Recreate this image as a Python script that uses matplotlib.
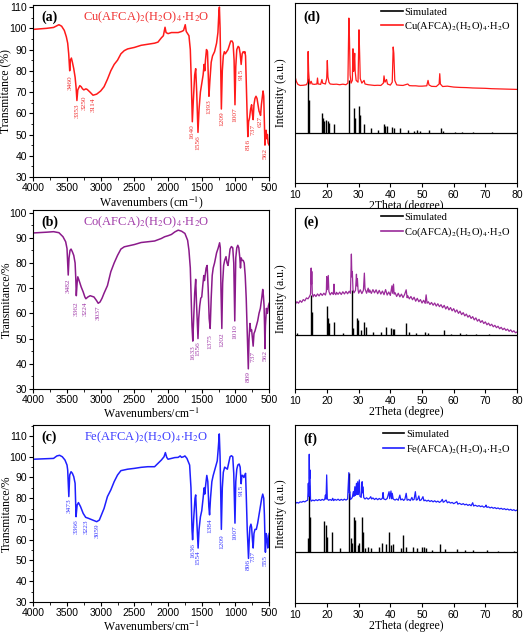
import numpy as np
import matplotlib
matplotlib.use("Agg")
import matplotlib.pyplot as plt
from matplotlib.ticker import MultipleLocator

plt.rcParams["font.family"] = ["Liberation Sans", "DejaVu Sans"]
plt.rcParams["mathtext.fontset"] = "stix"

# ---------------- IR data (wavenumber, transmittance) ----------------
cu_ir = [(4000, 99.5), (3800, 100), (3700, 100.4), (3650, 101.2), (3620, 101.7), (3580, 101), (3540, 99),
         (3510, 96), (3490, 93), (3475, 88), (3460, 80), (3450, 85), (3435, 86), (3420, 84), (3400, 81),
         (3380, 77), (3365, 72), (3353, 66), (3340, 71), (3310, 73), (3290, 72.5), (3270, 71.5), (3250, 71),
         (3220, 71.5), (3200, 71.2), (3160, 70), (3114, 68.5), (3060, 69), (3000, 70.5), (2950, 72.5),
         (2900, 76), (2850, 80), (2800, 83), (2750, 85), (2700, 88), (2650, 89.5), (2600, 90.3), (2500, 91),
         (2400, 92), (2300, 92.5), (2200, 93), (2150, 93.5), (2100, 95.5), (2070, 96.5), (2045, 100.5),
         (2030, 98), (2000, 97.5), (1950, 98), (1900, 98), (1850, 98), (1800, 98.5), (1770, 99), (1745, 101.7),
         (1730, 98.5), (1710, 97.5), (1690, 96.5), (1670, 90), (1655, 75), (1640, 56), (1625, 66), (1605, 78),
         (1590, 81), (1575, 70), (1556, 51), (1540, 62), (1520, 70), (1500, 74), (1480, 78), (1465, 83),
         (1455, 80), (1445, 85), (1430, 90), (1415, 89), (1405, 80), (1393, 68), (1380, 75), (1360, 84),
         (1340, 87), (1310, 89), (1280, 93), (1260, 98), (1245, 108), (1238, 110), (1228, 100), (1209, 62),
         (1195, 80), (1180, 87), (1165, 89), (1150, 88), (1130, 89), (1110, 90), (1090, 92), (1070, 94),
         (1050, 94), (1035, 93), (1020, 85), (1007, 64), (995, 82), (980, 90), (960, 91.5), (945, 91),
         (930, 88), (915, 83), (900, 88), (885, 89), (870, 88.5), (860, 89), (850, 87), (838, 72), (827, 60),
         (816, 49), (805, 56), (790, 58), (775, 62), (760, 64), (750, 60), (737, 57), (725, 64), (710, 67),
         (695, 68), (680, 67), (665, 64), (650, 61), (637, 60), (627, 59), (615, 64), (600, 68), (590, 70.5),
         (580, 68), (570, 55), (562, 45), (553, 50), (545, 52), (535, 48), (525, 50), (515, 46), (500, 45)]
cu_peaks = [3460, 3353, 3250, 3114, 1640, 1556, 1393, 1209, 1007, 915, 816, 737, 627, 562]
cu_peak_t = [79, 66, 69.5, 68.5, 56, 51, 68, 62, 64, 82, 49, 56, 60, 45]

co_ir = [(4000, 91.9), (3800, 92.2), (3700, 92.4), (3620, 92), (3560, 90.4), (3520, 88.4), (3500, 85.7),
         (3490, 80), (3482, 75.2), (3470, 82), (3455, 85), (3440, 85.5), (3420, 84.4), (3400, 83), (3380, 80),
         (3370, 74), (3362, 67), (3350, 72), (3340, 74.5), (3320, 73), (3290, 70.5), (3260, 68.5),
         (3235, 66.5), (3220, 65.8), (3190, 66.5), (3156, 67), (3100, 66.5), (3060, 65), (3037, 64),
         (3010, 64.5), (2980, 66), (2950, 68), (2900, 71), (2850, 76.5), (2800, 80), (2750, 83), (2700, 85.5),
         (2650, 86.4), (2500, 87.3), (2400, 88.1), (2300, 88.4), (2200, 88.7), (2100, 89.7), (2050, 90.4),
         (2000, 90.8), (1950, 91.3), (1900, 92.3), (1850, 93), (1800, 92.6), (1750, 91.7), (1710, 89),
         (1690, 85), (1670, 78), (1655, 65), (1645, 55), (1633, 49), (1620, 58), (1605, 68), (1590, 73.5),
         (1578, 64), (1566, 56), (1556, 50), (1545, 58), (1530, 63), (1515, 66), (1500, 66.5), (1485, 71),
         (1470, 75), (1460, 73), (1450, 75), (1435, 78), (1420, 79), (1405, 70), (1390, 58), (1375, 54),
         (1360, 66), (1345, 75), (1330, 78), (1310, 80), (1280, 84), (1255, 86), (1235, 88), (1225, 86),
         (1215, 70), (1202, 54), (1190, 72), (1175, 79), (1160, 81), (1140, 82.5), (1125, 80), (1110, 79),
         (1095, 82), (1080, 85.5), (1060, 86.5), (1040, 86), (1025, 80), (1010, 57), (995, 82), (980, 86),
         (965, 87), (950, 86), (935, 82), (925, 78), (915, 82), (900, 81), (885, 81), (870, 80), (855, 75),
         (840, 66), (825, 52), (809, 38), (798, 50), (785, 56), (772, 53), (760, 53.5), (748, 50), (737, 47),
         (725, 52), (710, 53), (690, 55), (670, 57), (650, 60), (630, 62), (610, 66), (595, 69.5), (585, 67),
         (575, 63), (568, 55), (562, 46), (555, 55), (540, 62), (525, 60), (510, 63), (500, 64)]
co_peaks = [3482, 3362, 3224, 3037, 1633, 1556, 1375, 1202, 1010, 809, 737, 562]
co_peak_t = [75.2, 66, 66, 64.5, 48.5, 50, 53, 53.5, 57, 38.5, 46.5, 46.5]

fe_ir = [(4000, 98.8), (3700, 99.2), (3650, 100.4), (3610, 100.7), (3570, 100), (3530, 98.4), (3500, 96),
         (3490, 93.6), (3473, 80.8), (3460, 91.2), (3440, 92.8), (3420, 92), (3400, 90.4), (3380, 87.2),
         (3366, 71.1), (3350, 76.7), (3330, 77.9), (3300, 76), (3260, 72.7), (3223, 70.8), (3180, 70.3),
         (3120, 69.5), (3059, 68.7), (3020, 69.5), (2980, 72.7), (2950, 75.1), (2900, 80.8), (2850, 84),
         (2800, 88), (2750, 91.2), (2700, 93.3), (2600, 94), (2500, 94.4), (2400, 94.9), (2300, 95.2),
         (2200, 95.2), (2150, 96.8), (2100, 98.4), (2060, 100), (2040, 102), (2020, 99.7), (2000, 98.8),
         (1900, 99.6), (1850, 99.7), (1820, 100.4), (1800, 99.7), (1770, 100), (1750, 100.4), (1720, 99.2),
         (1700, 97.6), (1680, 96), (1660, 85), (1645, 65), (1636, 60), (1620, 70), (1600, 80), (1590, 81.6),
         (1575, 70), (1554, 56), (1540, 65), (1520, 71), (1500, 74), (1480, 80), (1465, 85), (1455, 82),
         (1440, 87), (1425, 91), (1410, 88), (1395, 76), (1384, 72), (1370, 80), (1350, 88), (1330, 91),
         (1300, 94.5), (1270, 98), (1255, 104), (1240, 111), (1228, 100), (1209, 65), (1195, 85),
         (1180, 92.5), (1160, 95), (1140, 94.5), (1120, 94), (1100, 97), (1080, 100), (1060, 100.5),
         (1040, 100), (1025, 92), (1007, 68), (995, 88), (980, 94), (965, 96), (945, 96.5), (930, 95),
         (915, 87), (905, 91), (890, 91), (875, 90), (860, 91), (850, 92), (840, 82), (825, 65), (806, 51),
         (795, 60), (785, 66), (770, 67.5), (760, 66), (748, 60), (737, 56), (725, 63), (710, 65), (690, 65),
         (670, 68), (650, 72), (630, 76), (610, 80), (595, 82), (580, 80), (570, 72), (560, 58), (555, 54),
         (545, 63), (535, 62), (520, 56), (510, 60), (500, 63)]
fe_peaks = [3473, 3366, 3223, 3059, 1636, 1554, 1384, 1209, 1007, 915, 806, 737, 555]
fe_peak_t = [81, 71, 71, 69, 59.5, 56, 71.5, 64, 68, 87.5, 52, 56, 54]

# ---------------- XRD data (2theta, intensity in % of panel height) ----------------
cu_sim_base = 27.8
cu_sim_pos = [14.0, 14.4, 18.3, 18.7, 19.2, 19.8, 20.2, 20.7, 22.2, 26.9, 28.6, 28.9, 30.0, 30.3, 31.7, 33.8,
              36.0, 37.9, 38.3, 39.1, 40.6, 41.2, 42.9, 45.5, 47.5, 48.5, 49.3, 52.2, 55.9, 56.5, 60.5, 62.5,
              66.0, 72.0]
cu_sim_h = [30.6, 18.5, 11.1, 8.3, 6.5, 7.4, 6.5, 5.6, 5.0, 29.6, 13.9, 8.3, 14.8, 10.2, 5.2, 2.8, 1.9, 5.2,
            3.7, 4.1, 3.3, 2.8, 2.8, 1.9, 1.3, 1.5, 1.3, 1.9, 3.1, 1.3, 0.7, 0.6, 0.6, 0.4]
cu_exp = [(10.0, 58.5), (10.3, 56.5), (10.8, 54.8), (11.5, 54.2), (12.5, 54.3), (13.5, 54.6), (13.9, 56),
          (14.05, 73), (14.2, 62), (14.35, 58), (14.6, 55), (15.0, 56.5), (15.3, 55), (16.0, 54.8),
          (16.8, 55), (17.0, 58.3), (17.2, 55), (18.0, 54.8), (18.4, 57.5), (18.6, 55.5), (19.5, 55),
          (19.9, 58), (20.1, 68), (20.3, 59), (20.6, 56), (21.0, 55), (22.0, 54.8), (23.0, 54.9), (24.0, 54.6),
          (25.0, 54.9), (26.0, 54.6), (26.6, 55.5), (26.9, 91.5), (27.1, 80), (27.3, 60), (27.6, 55.5),
          (28.0, 57), (28.2, 74.5), (28.4, 62), (28.6, 68), (28.75, 72), (28.9, 62), (29.2, 57), (29.8, 56),
          (30.1, 85), (30.3, 72), (30.5, 58), (31.0, 55.5), (31.7, 57), (32.0, 55), (33.0, 54.6),
          (34.0, 54.4), (35.0, 54.2), (36.0, 54.3), (37.0, 54.2), (37.8, 55.5), (38.0, 59.5), (38.3, 56),
          (38.8, 57.5), (39.1, 55), (40.0, 54.4), (40.6, 56), (40.9, 75.5), (41.1, 72), (41.4, 57),
          (42.0, 54.5), (43.0, 54.3), (44.0, 54.2), (45.5, 55), (46.0, 54.1), (47.0, 54), (48.0, 54),
          (49.0, 53.8), (50.0, 53.8), (51.5, 54), (51.9, 57), (52.2, 54.5), (53.0, 53.7), (54.5, 53.6),
          (55.4, 55), (55.6, 60.7), (55.8, 55), (56.5, 53.6), (58.0, 53.8), (60.0, 53.3), (62.0, 53.1),
          (64.0, 53.0), (66.0, 52.8), (68.0, 52.7), (70.0, 52.6), (72.0, 52.4), (74.0, 52.3), (76.0, 52.2),
          (78.0, 52.1), (80.0, 52.0)]

co_sim_base = 30.0
co_sim_pos = [10.5, 15.0, 15.3, 19.9, 20.4, 20.7, 22.3, 25.2, 27.8, 28.3, 29.4, 29.7, 30.8, 31.8, 32.2, 34.5,
              37.2, 38.7, 40.2, 40.8, 41.3, 45.0, 45.8, 48.0, 51.0, 51.8, 56.8, 59.0, 62.0, 64.0, 67.0, 71.0]
co_sim_h = [0.9, 22.1, 12.9, 15.7, 9.2, 6.4, 7.4, 0.9, 24.9, 3.7, 9.2, 8.3, 2.8, 7.4, 4.6, 1.8, 1.8, 4.1, 3.7,
            3.3, 3.1, 6.8, 1.8, 0.9, 1.5, 1.3, 2.8, 0.7, 1.3, 0.6, 0.6, 0.4]
co_exp = [(10.0, 47.0), (10.5, 48.3), (11.0, 47.5), (11.5, 48.9), (12.0, 48.0), (12.5, 49.5), (13.0, 48.8),
          (13.5, 50.4), (14.0, 49.9), (14.5, 51.3), (14.8, 52.5), (15.0, 66.9), (15.1, 58), (15.2, 65),
          (15.35, 53), (15.6, 51.0), (16.0, 52.3), (16.5, 51.2), (17.0, 52.6), (17.5, 51.5), (18.0, 52.9),
          (18.5, 51.8), (19.0, 53.0), (19.5, 52.0), (19.8, 54), (19.9, 62.2), (20.1, 55), (20.4, 62.8),
          (20.6, 54), (21.0, 52.1), (21.5, 53.4), (22.0, 52.3), (22.2, 58.0), (22.4, 53.0), (22.8, 52.2),
          (23.0, 53.5), (23.5, 52.4), (24.0, 53.6), (24.5, 52.3), (25.0, 53.8), (25.5, 52.6), (26.0, 54.0),
          (26.5, 52.7), (27.0, 54.1), (27.4, 53.0), (27.7, 74.6), (27.85, 62), (28.0, 65.0), (28.2, 55),
          (28.5, 53.2), (29.0, 54.6), (29.3, 63.5), (29.45, 57), (29.6, 61.0), (29.8, 55), (30.0, 53.0),
          (30.5, 54.9), (31.0, 52.8), (31.5, 54.6), (31.8, 64.1), (32.0, 55.5), (32.5, 53.0), (33.0, 55.8),
          (33.3, 53.5), (33.5, 54.8), (34.0, 52.9), (34.5, 55.0), (35.0, 53.2), (35.5, 54.9), (36.0, 52.7),
          (36.5, 54.6), (37.0, 52.5), (37.5, 54.2), (38.0, 52.2), (38.5, 55.0), (39.0, 52.0), (39.5, 53.7),
          (40.0, 51.8), (40.5, 57.1), (40.7, 53), (41.0, 58.0), (41.2, 52.5), (41.5, 53.3), (42.0, 51.2),
          (42.5, 53.0), (43.0, 51.0), (43.5, 52.5), (44.0, 50.6), (44.5, 52.3), (45.0, 54.9), (45.3, 50.5),
          (45.5, 51.6), (46.0, 49.9), (46.5, 51.2), (47.0, 49.4), (47.5, 50.8), (48.0, 48.6), (48.5, 50.2),
          (49.0, 48.3), (49.5, 49.5), (50.0, 47.6), (50.5, 49.1), (51.0, 47.4), (51.3, 52.1), (51.6, 47.5),
          (52.0, 48.3), (52.5, 46.8), (53.0, 47.9), (53.5, 46.4), (54.0, 47.6), (54.5, 45.9), (55.0, 47.2),
          (55.5, 45.6), (56.0, 46.7), (56.5, 45.0), (57.0, 46.3), (57.5, 44.3), (58.0, 45.7), (58.5, 43.8),
          (59.0, 45.1), (59.5, 43.3), (60.0, 44.5), (60.5, 42.6), (61.0, 43.8), (61.5, 41.9), (62.0, 43.1),
          (62.5, 41.2), (63.0, 42.3), (63.5, 40.5), (64.0, 41.5), (64.5, 39.8), (65.0, 40.8), (65.5, 39.1),
          (66.0, 40.1), (66.5, 38.3), (67.0, 39.4), (67.5, 37.6), (68.0, 38.6), (68.5, 36.9), (69.0, 37.9),
          (69.5, 36.3), (70.0, 37.2), (70.5, 35.6), (71.0, 36.5), (71.5, 35.1), (72.0, 35.9), (72.5, 34.5),
          (73.0, 35.3), (73.5, 34.0), (74.0, 34.8), (74.5, 33.4), (75.0, 34.2), (75.5, 32.9), (76.0, 33.7),
          (76.5, 32.5), (77.0, 33.2), (77.5, 32.0), (78.0, 32.8), (78.5, 31.6), (79.0, 32.3), (79.5, 31.2),
          (80.0, 31.6)]

fe_sim_base = 29.0
fe_sim_pos = [14.0, 14.3, 14.6, 19.0, 19.7, 20.0, 21.6, 24.2, 26.9, 27.5, 28.0, 28.5, 28.8, 29.8, 30.2, 31.1,
              31.4, 32.0, 33.0, 33.8, 36.4, 37.5, 38.6, 39.7, 40.2, 40.8, 43.3, 44.1, 45.0, 47.2, 48.4, 50.0,
              50.5, 51.2, 53.0, 55.7, 57.4, 61.0, 63.5, 66.0, 70.5, 74.0, 79.0]
fe_sim_h = [7.5, 37.4, 19.6, 17.2, 15.0, 8.4, 10.8, 1.9, 43.9, 7.5, 4.7, 19.6, 17.8, 3.7, 4.7, 19.6, 11.2,
            1.9, 2.8, 1.9, 2.8, 5.0, 4.1, 11.2, 3.7, 4.3, 1.9, 9.3, 2.8, 2.4, 1.9, 2.8, 2.8, 2.2, 0.9, 4.1,
            1.3, 1.3, 0.9, 0.9, 0.7, 0.6, 0.6]
fe_exp = [(10.0, 55.9), (10.5, 56.6), (11.0, 56.2), (11.5, 56.9), (12.0, 56.7), (12.5, 57.2), (13.0, 56.9),
          (13.5, 57.5), (13.9, 57.8), (14.1, 67.3), (14.25, 60), (14.4, 83.6), (14.5, 70), (14.6, 74.8),
          (14.8, 58.5), (15.0, 57.3), (15.5, 57.9), (16.0, 57.5), (16.5, 58.1), (17.0, 57.6), (17.5, 58.2),
          (18.0, 57.7), (18.5, 58.3), (19.0, 57.8), (19.3, 58.5), (19.5, 60.7), (19.7, 58.4), (19.9, 72.0),
          (20.1, 58.6), (20.5, 57.8), (21.0, 58.2), (21.5, 57.7), (21.8, 58.9), (22.1, 57.6), (22.5, 58.3),
          (23.0, 57.8), (23.5, 58.4), (24.0, 57.7), (24.5, 58.3), (25.0, 57.8), (25.5, 58.4), (26.0, 57.9),
          (26.5, 58.5), (26.9, 73.3), (27.05, 62), (27.2, 62.6), (27.4, 58.2), (27.8, 58.9), (28.0, 59.5),
          (28.3, 62.6), (28.5, 60), (28.8, 65.4), (29.0, 60.5), (29.3, 67.3), (29.5, 61), (29.7, 68.2),
          (29.9, 61), (30.2, 69.2), (30.4, 60), (30.8, 59.4), (31.1, 68.2), (31.2, 62), (31.3, 65.4),
          (31.6, 59.3), (32.0, 58.5), (32.5, 59.2), (33.0, 58.4), (33.5, 59.0), (33.8, 59.8), (34.1, 58.5),
          (34.5, 59.1), (35.0, 58.2), (35.5, 58.9), (36.0, 58.1), (36.5, 58.8), (37.0, 58.2), (37.5, 58.9),
          (37.7, 62.1), (37.9, 58.6), (38.5, 58.1), (39.0, 58.8), (39.6, 62.6), (39.8, 58.7), (40.2, 63.0),
          (40.4, 58.6), (40.6, 61.7), (40.9, 58.5), (41.5, 57.9), (42.0, 58.5), (42.5, 57.8), (43.0, 60.7),
          (43.3, 58.0), (43.8, 58.5), (44.2, 57.7), (44.6, 58.4), (45.0, 61.7), (45.3, 57.8), (45.8, 58.3),
          (46.3, 57.6), (46.8, 59.4), (47.1, 57.9), (47.5, 58.3), (47.9, 62.6), (48.2, 57.9), (48.6, 58.2),
          (49.0, 60.2), (49.3, 57.6), (49.8, 58.1), (50.3, 59.8), (50.6, 57.5), (51.0, 57.9), (51.5, 57.3),
          (52.0, 57.8), (52.5, 57.1), (53.0, 57.6), (53.5, 56.9), (54.0, 57.5), (54.5, 56.8), (55.0, 57.3),
          (55.5, 56.6), (56.0, 57.2), (56.4, 58.3), (56.7, 56.7), (57.0, 57.0), (57.6, 57.9), (58.0, 56.4),
          (58.5, 56.9), (59.0, 56.2), (59.5, 56.6), (60.0, 55.9), (60.5, 56.4), (61.0, 57.0), (61.3, 55.6),
          (61.8, 56.1), (62.5, 55.4), (63.0, 55.9), (63.5, 55.2), (64.0, 55.6), (64.5, 54.9), (65.0, 55.4),
          (65.5, 54.7), (66.0, 56.4), (66.3, 54.6), (66.8, 55.0), (67.5, 54.4), (68.0, 54.8), (68.5, 54.2),
          (69.0, 54.6), (69.5, 53.9), (70.0, 54.3), (70.2, 55.1), (70.5, 53.8), (71.0, 54.1), (71.5, 53.5),
          (72.0, 53.9), (72.5, 53.3), (73.0, 53.7), (73.5, 53.1), (74.0, 53.5), (74.5, 52.9), (75.0, 53.3),
          (75.5, 52.7), (76.0, 53.1), (76.5, 52.5), (77.0, 52.9), (77.5, 52.3), (78.0, 52.7), (78.5, 52.1),
          (79.0, 52.5), (79.5, 51.9), (80.0, 52.3)]

cu_name = r"Cu(AFCA)$_2$(H$_2$O)$_4$$\cdot$H$_2$O"
co_name = r"Co(AFCA)$_2$(H$_2$O)$_4$$\cdot$H$_2$O"
fe_name = r"Fe(AFCA)$_2$(H$_2$O)$_4$$\cdot$H$_2$O"

RED = "#ff1a1a"
PURPLE = "#8b1a8b"
BLUE = "#1f1fff"
SERIF = "Liberation Serif"


def draw_ir(ax, data, peaks, peak_t, color, label_color, name, tag, ylim, yticks, xlabel, ylabel):
    wn = [p[0] for p in data]
    t = [p[1] for p in data]
    ax.plot(wn, t, color=color, lw=1.1)
    for p, v in zip(peaks, peak_t):
        ax.text(p, v - 1.2, str(p), rotation=90, ha="center", va="top", fontsize=5.3,
                color=label_color, family=SERIF)
    ax.set_xlim(4000, 500)
    ax.set_ylim(*ylim)
    ax.xaxis.set_major_locator(MultipleLocator(500))
    ax.xaxis.set_minor_locator(MultipleLocator(250))
    ax.set_yticks(yticks)
    ax.yaxis.set_minor_locator(MultipleLocator(5))
    ax.tick_params(labelsize=7.5, length=3, width=0.8, pad=1.5)
    ax.tick_params(which="minor", length=1.8, width=0.6)
    ax.set_xlabel(xlabel, family=SERIF, fontsize=8.5, labelpad=1)
    ax.set_ylabel(ylabel, family=SERIF, fontsize=8.5)
    ax.yaxis.set_label_coords(-0.088, 0.5)
    ax.text(0.035, 0.93, tag, transform=ax.transAxes, family=SERIF, fontsize=10,
            fontweight="bold", va="center")
    ax.text(0.48, 0.93, name, transform=ax.transAxes, family=SERIF, fontsize=9,
            color=label_color, ha="center", va="center")


def draw_xrd(ax, base, pos, h, exp, color, name, tag):
    ax.axhline(base, color="black", lw=0.9)
    ax.vlines(pos, base, [base + v for v in h], color="black", lw=1.0)
    ax.plot([p[0] for p in exp], [p[1] for p in exp], color=color, lw=0.9)
    ax.plot([], [], color="black", lw=1.2, label="Simulated")
    ax.plot([], [], color=color, lw=1.2, label=name)
    handles, labels = ax.get_legend_handles_labels()
    ax.legend(handles, labels, loc="upper right", bbox_to_anchor=(1.0, 1.01), frameon=False,
              prop={"family": SERIF, "size": 7.6}, handlelength=2.0, handletextpad=0.15,
              labelspacing=0.3, borderaxespad=0.2)
    ax.set_xlim(10, 80)
    ax.set_ylim(0, 100)
    ax.set_yticks([])
    ax.xaxis.set_major_locator(MultipleLocator(10))
    ax.tick_params(labelsize=7.5, length=3, width=0.8, pad=1.5)
    ax.set_xlabel("2Theta (degree)", family=SERIF, fontsize=8.5, labelpad=0)
    ax.set_ylabel("Intensity (a.u.)", family=SERIF, fontsize=8.5)
    ax.yaxis.set_label_coords(-0.037, 0.5)
    ax.text(0.035, 0.92, tag, transform=ax.transAxes, family=SERIF, fontsize=10,
            fontweight="bold", va="center")


fig = plt.figure(figsize=(5.24, 6.35), dpi=100)
ax_a = fig.add_axes([0.0636, 0.7213, 0.450, 0.2709])
ax_b = fig.add_axes([0.0636, 0.3874, 0.450, 0.2819])
ax_c = fig.add_axes([0.0636, 0.0520, 0.450, 0.2787])
ax_d = fig.add_axes([0.5636, 0.7113, 0.4231, 0.2844])
ax_e = fig.add_axes([0.5636, 0.3869, 0.4231, 0.2855])
ax_f = fig.add_axes([0.5636, 0.0499, 0.4231, 0.2808])

draw_ir(ax_a, cu_ir, cu_peaks, cu_peak_t, RED, "#f03030", cu_name, "(a)", (30, 111),
        range(30, 111, 10), r"Wavenumbers (cm$^{-1}$)", "Transmitance (%)")
draw_ir(ax_b, co_ir, co_peaks, co_peak_t, PURPLE, "#a03aa8", co_name, "(b)", (30, 101),
        range(30, 101, 10), r"Wavenumbers/cm$^{-1}$", "Transmitance/%")
draw_ir(ax_c, fe_ir, fe_peaks, fe_peak_t, BLUE, "#3a3aff", fe_name, "(c)", (30, 115.3),
        range(30, 111, 10), r"Wavenumbers/cm$^{-1}$", "Transmitance/%")

draw_xrd(ax_d, cu_sim_base, cu_sim_pos, cu_sim_h, cu_exp, RED, cu_name, "(d)")
draw_xrd(ax_e, co_sim_base, co_sim_pos, co_sim_h, co_exp, "#9a2a9a", co_name, "(e)")
draw_xrd(ax_f, fe_sim_base, fe_sim_pos, fe_sim_h, fe_exp, BLUE, fe_name, "(f)")

fig.savefig("out.png", dpi=100)
